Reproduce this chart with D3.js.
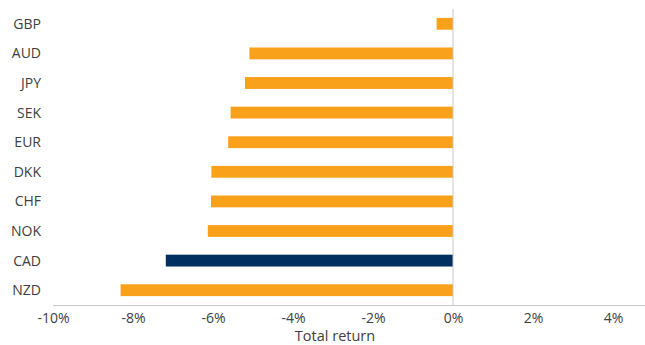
<!DOCTYPE html>
<html>
<head>
<meta charset="utf-8">
<script src="https://cdn.jsdelivr.net/npm/d3@7"></script>
<style>
  html, body { margin: 0; padding: 0; background: #fff; }
  svg { display: block; font-family: "Open Sans", "Noto Sans", sans-serif; }
</style>
</head>
<body>
<svg id="chart" width="645" height="345"></svg>
<script>
// Currency total returns (%)
const currencies = ["GBP", "AUD", "JPY", "SEK", "EUR", "DKK", "CHF", "NOK", "CAD", "NZD"];
const returns = [-0.41, -5.09, -5.2, -5.56, -5.62, -6.04, -6.05, -6.13, -7.18, -8.31];
const highlighted = ["CAD"];
const tickValues = [-10, -8, -6, -4, -2, 0, 2, 4];
const axisTitle = "Total return";

const orange = "#F9A11B";
const navy = "#00305F";
const textColor = "#404040";

const svg = d3.select("#chart");
const plotLeft = 53, plotTop = 9, plotBottom = 305;

const x = d3.scaleLinear().domain([-10, 4.8]).range([plotLeft, 645]);
const y = d3.scaleBand().domain(currencies).range([plotTop, plotBottom]).paddingInner(0.6).paddingOuter(0.3);

// Bars
svg.append("g").selectAll("rect")
  .data(currencies.map((c, i) => ({ c, v: returns[i] })))
  .join("rect")
  .attr("x", d => x(Math.min(0, d.v)))
  .attr("width", d => Math.abs(x(d.v) - x(0)))
  .attr("y", d => y(d.c))
  .attr("height", y.bandwidth())
  .attr("fill", d => highlighted.includes(d.c) ? navy : orange);

// Zero line
svg.append("line")
  .attr("x1", x(0)).attr("x2", x(0))
  .attr("y1", plotTop).attr("y2", plotBottom)
  .attr("stroke", "#c8c8c8").attr("stroke-width", 1);

// X axis
const xAxis = svg.append("g")
  .attr("transform", `translate(0,${plotBottom})`)
  .call(d3.axisBottom(x).tickValues(tickValues).tickSize(0).tickPadding(8)
    .tickFormat(d => d + "%"));
xAxis.select(".domain").attr("stroke", "#c8c8c8").attr("d", `M${plotLeft},0.5H645`);
xAxis.selectAll("text").attr("font-size", 14).attr("fill", textColor)
  .attr("font-family", "'Open Sans', 'Noto Sans', sans-serif");

// Category labels
svg.append("g").selectAll("text")
  .data(currencies)
  .join("text")
  .attr("x", 41)
  .attr("y", d => y(d) + y.bandwidth() / 2)
  .attr("dy", "0.35em")
  .attr("text-anchor", "end")
  .attr("font-size", 14)
  .attr("fill", textColor)
  .text(d => d);

// Axis title
svg.append("text")
  .attr("x", 335).attr("y", 341)
  .attr("text-anchor", "middle")
  .attr("font-size", 14.5)
  .attr("fill", textColor)
  .text(axisTitle);
</script>
</body>
</html>
